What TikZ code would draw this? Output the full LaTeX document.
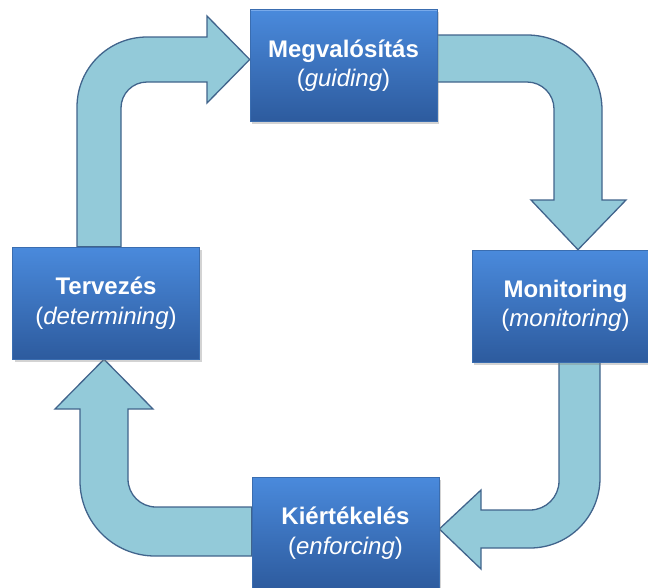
\documentclass[tikz,border=0pt]{standalone}
\usepackage{fontspec}
\setmainfont{Liberation Sans}
\usetikzlibrary{shadows,backgrounds}
\definecolor{arrowfill}{HTML}{93CAD9}
\definecolor{arrowline}{HTML}{41648C}
\definecolor{boxtop}{HTML}{4A8ADC}
\definecolor{boxbot}{HTML}{2D5B9E}
\definecolor{boxedge}{HTML}{3A6DB0}
\definecolor{boxhi}{HTML}{79AAEA}
\begin{document}
\begin{tikzpicture}[x=1pt,y=-1pt,
  stepbox/.style={minimum width=187pt,minimum height=112pt,inner sep=0pt,
    top color=boxtop,bottom color=boxbot,draw=boxedge,line width=0.6pt,
    text=white,align=center,font=\fontsize{24}{29.5}\selectfont,
    drop shadow={shadow xshift=2pt,shadow yshift=-2.5pt,opacity=0.35},
    path picture={\draw[boxhi,line width=2.5pt] (path picture bounding box.north west) -- (path picture bounding box.north east);}},
  bigarrow/.style={fill=arrowfill,draw=arrowline,line width=1.3pt,line join=miter}]
\useasboundingbox (0,0) rectangle (648,587);
\begin{scope}
\clip (0,0) rectangle (648,587);
\node[stepbox] (M) at (343.5,65.5) {\textbf{Megvalósítás}\\(\textit{guiding})};
\node[stepbox] (Mon) at (565.5,306) {\textbf{Monitoring}\\(\textit{monitoring})};
\node[stepbox] (K) at (345.5,533) {\textbf{Kiértékelés}\\(\textit{enforcing})};
\node[stepbox] (T) at (106,303) {\textbf{Tervezés}\\(\textit{determining})};
\end{scope}
\begin{scope}[on background layer]
% Tervezes -> Megvalositas
\draw[bigarrow] (T.north -| 77,0) -- (77,107) .. controls (77,68.3) and (108.3,37) .. (147,37)
  -- (207,37) -- (207,16) -- (M.west |- 0,59.5) -- (207,103) -- (207,82) -- (147,82)
  .. controls (132.6,82) and (121,93.6) .. (121,108) -- (T.north -| 121,0) -- cycle;
% Megvalositas -> Monitoring
\draw[bigarrow] (M.east |- 0,35) -- (527,35) .. controls (568.4,35) and (602,68.6) .. (602,110)
  -- (602,200) -- (626,200) -- (Mon.north -| 578,0) -- (531,200) -- (554,200) -- (554,109)
  .. controls (554,94.1) and (541.9,82) .. (527,82) -- (M.east |- 0,82) -- cycle;
% Monitoring -> Kiertekeles
\draw[bigarrow] (Mon.south -| 559,0) -- (559,481) .. controls (559,497) and (546,510) .. (530,510)
  -- (481,510) -- (481,490) -- (K.east |- 0,529) -- (481,569) -- (481,548) -- (530,548)
  .. controls (568.7,548) and (600,516.7) .. (600,478) -- (Mon.south -| 600,0) -- cycle;
% Kiertekeles -> Tervezes
\draw[bigarrow] (K.west |- 0,507) -- (156,507) .. controls (140.5,507) and (128,494.5) .. (128,479)
  -- (128,409) -- (153,409) -- (T.south -| 104,0) -- (55,409) -- (80,409) -- (80,481)
  .. controls (80,522.4) and (113.6,556) .. (155,556) -- (K.west |- 0,556) -- cycle;
\end{scope}
\end{tikzpicture}
\end{document}
